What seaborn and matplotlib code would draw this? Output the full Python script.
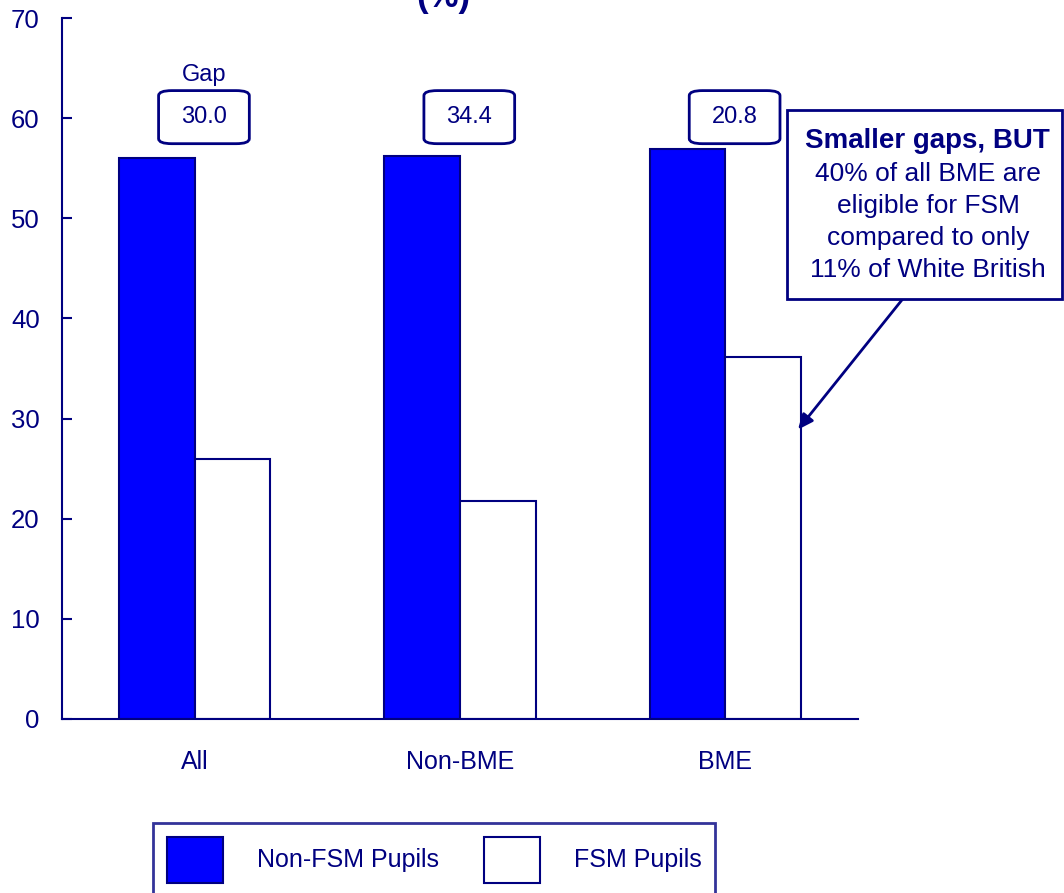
import matplotlib
matplotlib.use('Agg')
import matplotlib.pyplot as plt
from matplotlib.patches import FancyBboxPatch, Rectangle, Patch
import seaborn as sns
import pandas as pd

sns.set_style('white')
plt.rcParams['font.family'] = ['Liberation Sans', 'DejaVu Sans']

NAVY = '#000080'
BLUE = '#0000FF'

# data
groups = ['All', 'Non-BME', 'BME']
non_fsm = [56.0, 56.2, 56.9]
fsm = [26.0, 21.8, 36.1]
gaps = [30.0, 34.4, 20.8]
series = ['Non-FSM Pupils', 'FSM Pupils']

df = pd.DataFrame({
    'group': groups * 2,
    'pupils': [series[0]] * 3 + [series[1]] * 3,
    'value': non_fsm + fsm,
})

fig = plt.figure(figsize=(10.64, 8.93), dpi=100)
ax = fig.add_axes([62 / 1064, 1 - 719 / 893, (858 - 62) / 1064, (719 - 18) / 893])

sns.barplot(data=df, x='group', y='value', hue='pupils', order=groups,
            hue_order=series, palette={series[0]: BLUE, series[1]: 'white'},
            width=0.57, edgecolor=NAVY, linewidth=1.5, saturation=1,
            legend=False, ax=ax)

ax.set_xlim(-0.5, 2.5)
ax.set_ylim(0, 70)
ax.set_yticks(range(0, 71, 10))
ax.set_xlabel('')
ax.set_ylabel('')
for s in ['top', 'right']:
    ax.spines[s].set_visible(False)
for s in ['left', 'bottom']:
    ax.spines[s].set_color(NAVY)
    ax.spines[s].set_linewidth(1.5)

ax.set_xticks(range(len(groups)))
ax.set_xticklabels(groups)
ax.set_xticks([-0.5, 0.5, 1.5, 2.5], minor=True)
ax.tick_params(axis='x', which='major', length=0, pad=22, labelsize=18, labelcolor=NAVY)
ax.tick_params(axis='x', which='minor', length=8, width=1.5, direction='out', color=NAVY)
ax.tick_params(axis='y', length=7, width=1.5, direction='in', color=NAVY,
               pad=16, labelsize=18.5, labelcolor=NAVY, left=True)

# gap boxes above each group
bw, bh = 0.342, 5.3
for i, g in enumerate(gaps):
    cx, cy = i + 0.035, 60.1
    ax.add_patch(FancyBboxPatch((cx - bw / 2, cy - bh / 2), bw, bh,
                                boxstyle='round,pad=0,rounding_size=0.05',
                                mutation_aspect=10, fc='white', ec=NAVY, lw=2,
                                clip_on=False, zorder=5))
    ax.text(cx, cy, f'{g:.1f}', ha='center', va='center', fontsize=17,
            color=NAVY, zorder=6)
ax.text(0.035, 63.7, 'Gap', ha='center', va='baseline', fontsize=17, color=NAVY)

# callout box
fig.add_artist(Rectangle((787 / 1064, 1 - 299 / 893), (1062 - 787) / 1064, (299 - 110) / 893,
                         transform=fig.transFigure, fc='white', ec=NAVY, lw=2, zorder=5))
lines = ['40% of all BME are', 'eligible for FSM', 'compared to only', '11% of White British']
fig.text(927 / 1064, 1 - 148 / 893, 'Smaller gaps, BUT', ha='center', va='baseline',
         fontsize=20, fontweight='bold', color=NAVY, zorder=6)
for k, t in enumerate(lines):
    fig.text(928 / 1064, 1 - (181 + 32 * k) / 893, t, ha='center', va='baseline',
             fontsize=19, color=NAVY, zorder=6)

ax.annotate('', xy=(2.274, 28.9), xytext=(2.669, 41.96),
            arrowprops=dict(arrowstyle='-|>,head_length=0.9,head_width=0.4',
                            color=NAVY, lw=2, shrinkA=0, shrinkB=0),
            annotation_clip=False)

# partially visible title
fig.text(443 / 1064, 1 - 14 / 893, '(%)', ha='center', va='bottom',
         fontsize=25, fontweight='bold', color=NAVY)

handles = [Patch(fc=BLUE, ec=NAVY, lw=1.5), Patch(fc='white', ec=NAVY, lw=1.5)]
leg = fig.legend(handles, series, loc='upper center', bbox_to_anchor=(434 / 1064, 1 - 823 / 893),
                 ncol=2, frameon=True, fancybox=False, edgecolor=NAVY, fontsize=18,
                 handlelength=2.24, handleheight=2.45, handletextpad=1.36,
                 columnspacing=1.8, borderpad=0.55, borderaxespad=0)
leg.get_frame().set_linewidth(2)
for t in leg.get_texts():
    t.set_color(NAVY)

fig.savefig('out.png', dpi=100)
